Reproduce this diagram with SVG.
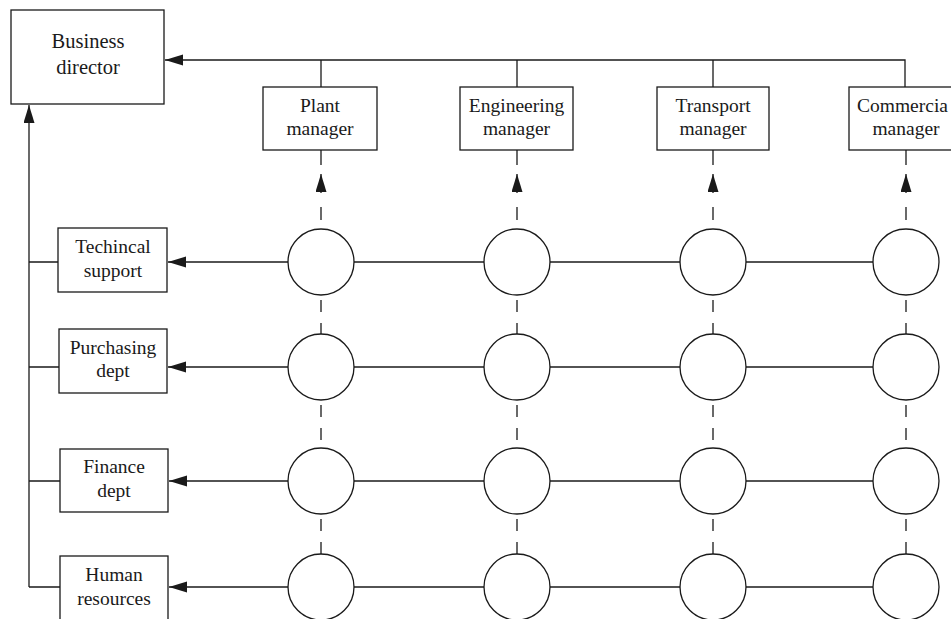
<svg xmlns="http://www.w3.org/2000/svg" width="951" height="619" viewBox="0 0 951 619">
<defs>
<style>
.box{fill:#fff;stroke:#1a1a1a;stroke-width:1.3}
.circ{fill:#fff;stroke:#1a1a1a;stroke-width:1.3}
.ln{fill:none;stroke:#1a1a1a;stroke-width:1.3}
.dash{fill:none;stroke:#1a1a1a;stroke-width:1.3;stroke-dasharray:12 11}
.t{font-family:"Liberation Serif","Times New Roman",serif;font-size:19.5px;fill:#1a1a1a;text-anchor:middle}
.tb{font-size:20.5px}
</style>
<marker id="ah" markerUnits="userSpaceOnUse" markerWidth="19" markerHeight="12" refX="18" refY="5.5" orient="auto">
<path d="M0,0 L18,5.5 L0,11 z" fill="#1a1a1a"/>
</marker>
</defs>
<rect width="951" height="619" fill="#fff"/>
<g id="connectors">
<!-- top bus to business director -->
<path class="ln" d="M905,87 V60 H165" marker-end="url(#ah)"/>
<path class="ln" d="M321,60 V87 M517,60 V87 M713,60 V87"/>
<!-- left bus up to business director -->
<path class="ln" d="M29,587 V105" marker-end="url(#ah)"/>
<path class="ln" d="M29,262 H58 M29,367 H59 M29,481 H60 M29,587 H60"/>
<!-- row lines to functional boxes -->
<path class="ln" d="M873,262 H168" marker-end="url(#ah)"/>
<path class="ln" d="M873,367 H168" marker-end="url(#ah)"/>
<path class="ln" d="M873,481 H169" marker-end="url(#ah)"/>
<path class="ln" d="M873,587 H169" marker-end="url(#ah)"/>
<!-- column lines up to managers -->
<g id="col-plant">
<path class="ln" d="M321,150 V165"/>
<path class="ln" d="M321,193 V174" marker-end="url(#ah)"/>
<path class="ln" d="M321,207 V220"/>
<path class="dash" d="M321,300 V334 M321,405 V448 M321,519 V554"/>
</g>
<g id="col-eng">
<path class="ln" d="M517,150 V165"/>
<path class="ln" d="M517,193 V174" marker-end="url(#ah)"/>
<path class="ln" d="M517,207 V220"/>
<path class="dash" d="M517,300 V334 M517,405 V448 M517,519 V554"/>
</g>
<g id="col-trans">
<path class="ln" d="M713,150 V165"/>
<path class="ln" d="M713,193 V174" marker-end="url(#ah)"/>
<path class="ln" d="M713,207 V220"/>
<path class="dash" d="M713,300 V334 M713,405 V448 M713,519 V554"/>
</g>
<g id="col-comm">
<path class="ln" d="M906,150 V165"/>
<path class="ln" d="M906,193 V174" marker-end="url(#ah)"/>
<path class="ln" d="M906,207 V220"/>
<path class="dash" d="M906,300 V334 M906,405 V448 M906,519 V554"/>
</g>
</g>
<g id="business-director">
<rect class="box" x="11" y="10" width="153" height="94"/>
<text class="t tb" x="88" y="48">Business</text>
<text class="t tb" x="88" y="74">director</text>
</g>
<g id="plant-manager">
<rect class="box" x="263" y="87" width="114" height="63"/>
<text class="t" x="320" y="112">Plant</text>
<text class="t" x="320" y="135">manager</text>
</g>
<g id="engineering-manager">
<rect class="box" x="460" y="87" width="113" height="63"/>
<text class="t" x="516.5" y="112">Engineering</text>
<text class="t" x="516.5" y="135">manager</text>
</g>
<g id="transport-manager">
<rect class="box" x="657" y="87" width="112" height="63"/>
<text class="t" x="713" y="112">Transport</text>
<text class="t" x="713" y="135">manager</text>
</g>
<g id="commercial-manager">
<rect class="box" x="849" y="87" width="115" height="63"/>
<text class="t" x="857" y="112" style="text-anchor:start">Commercia</text>
<text class="t" x="906" y="135">manager</text>
</g>
<g id="technical-support">
<rect class="box" x="58" y="228" width="109" height="64"/>
<text class="t" x="113" y="253">Techincal</text>
<text class="t" x="113" y="277">support</text>
</g>
<g id="purchasing-dept">
<rect class="box" x="59" y="329" width="108" height="64"/>
<text class="t" x="113" y="354">Purchasing</text>
<text class="t" x="113" y="377">dept</text>
</g>
<g id="finance-dept">
<rect class="box" x="60" y="449" width="108" height="63"/>
<text class="t" x="114" y="473">Finance</text>
<text class="t" x="114" y="497">dept</text>
</g>
<g id="human-resources">
<rect class="box" x="60" y="556" width="108" height="70"/>
<text class="t" x="114" y="581">Human</text>
<text class="t" x="114" y="605">resources</text>
</g>
<g id="matrix-nodes">
<circle class="circ" cx="321" cy="262" r="33"/>
<circle class="circ" cx="517" cy="262" r="33"/>
<circle class="circ" cx="713" cy="262" r="33"/>
<circle class="circ" cx="906" cy="262" r="33"/>
<circle class="circ" cx="321" cy="367" r="33"/>
<circle class="circ" cx="517" cy="367" r="33"/>
<circle class="circ" cx="713" cy="367" r="33"/>
<circle class="circ" cx="906" cy="367" r="33"/>
<circle class="circ" cx="321" cy="481" r="33"/>
<circle class="circ" cx="517" cy="481" r="33"/>
<circle class="circ" cx="713" cy="481" r="33"/>
<circle class="circ" cx="906" cy="481" r="33"/>
<circle class="circ" cx="321" cy="587" r="33"/>
<circle class="circ" cx="517" cy="587" r="33"/>
<circle class="circ" cx="713" cy="587" r="33"/>
<circle class="circ" cx="906" cy="587" r="33"/>
</g>
</svg>
